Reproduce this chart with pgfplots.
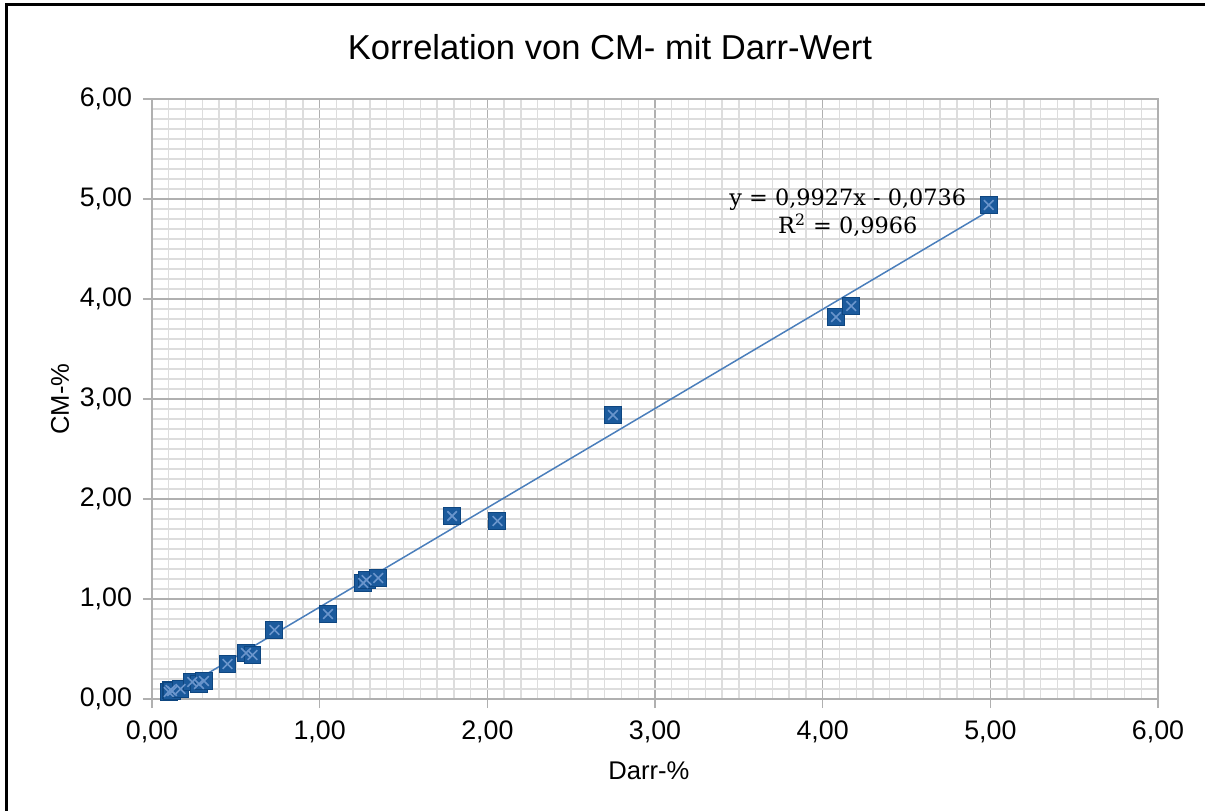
\documentclass[border=0pt]{standalone}
\usepackage{pgfplots}
\pgfplotsset{compat=1.18}
\usepackage{fontspec}
\setmainfont{Liberation Sans}
\newfontfamily\eqfont{DejaVu Serif}
\definecolor{mk}{HTML}{1B5A9C}
\definecolor{mkb}{HTML}{0E4680}
\definecolor{mkx}{HTML}{6A95CC}
\definecolor{trend}{HTML}{4A7EBB}
\definecolor{majg}{HTML}{B0B0B0}
\definecolor{ming}{HTML}{DDDDDD}
\pgfplotstableread{
x y
0.10 0.07
0.11 0.09
0.12 0.08
0.17 0.10
0.24 0.17
0.28 0.15
0.31 0.18
0.45 0.35
0.56 0.46
0.60 0.44
0.73 0.69
1.05 0.85
1.26 1.16
1.28 1.19
1.35 1.21
1.79 1.83
2.06 1.78
2.75 2.84
4.08 3.82
4.17 3.93
4.99 4.94
}\datatable
\begin{document}
\begin{tikzpicture}
\path[use as bounding box] (-76pt,-55.5pt) rectangle (526.5pt,349.5pt);
\draw[line width=1.5pt,line cap=rect] (-72.5pt,-55.5pt) -- (-72.5pt,347pt) -- (526.5pt,347pt);
\begin{axis}[
  at={(0pt,0pt)}, anchor=south west,
  scale only axis, width=503pt, height=300pt,
  xmin=0, xmax=6, ymin=0, ymax=6,
  xtick={0,1,...,6}, ytick={0,1,...,6},
  minor tick num=9,
  grid=both,
  major grid style={majg, line width=0.8pt},
  minor grid style={ming, line width=0.7pt},
  axis line style={majg, line width=0.8pt},
  tick pos=left, tick align=outside,
  major tick length=4.5pt, minor tick length=0pt,
  tick style={majg, line width=0.8pt},
  ticklabel style={font=\fontsize{13.4}{16}\selectfont, text=black},
  xticklabel style={yshift=-3pt},
  yticklabel style={xshift=-2pt},
  /pgf/number format/.cd, fixed, fixed zerofill, precision=2, use comma, assume math mode=true,
  /pgfplots/.cd,
  xlabel={Darr-\%}, ylabel={CM-\%},
  label style={font=\fontsize{12.8}{15}\selectfont},
  xlabel style={at={(axis description cs:0.494,0)}, anchor=center, yshift=-36pt},
  ylabel style={at={(axis description cs:0,0.5)}, anchor=center, yshift=46pt},
  clip=false,
]
\addplot[trend, line width=0.75pt] coordinates {(0.10,0.0257) (4.99,4.8800)};
\addplot[only marks, mark=square*, mark size=4.2pt, mark options={fill=mk, draw=mkb, line width=0.5pt}] table[x=x,y=y] {\datatable};
\addplot[only marks, mark=x, mark size=3.4pt, mark options={draw=mkx, line width=0.8pt}] table[x=x,y=y] {\datatable};
\node[font=\eqfont\fontsize{11.2}{14}\selectfont, align=center] at (axis cs:4.15,4.86) {y = 0,9927x - 0,0736\\R\textsuperscript{2} = 0,9966};
\end{axis}
\node[font=\fontsize{17.3}{20}\selectfont] at (229pt,326pt) {Korrelation von CM- mit Darr-Wert};
\end{tikzpicture}
\end{document}
